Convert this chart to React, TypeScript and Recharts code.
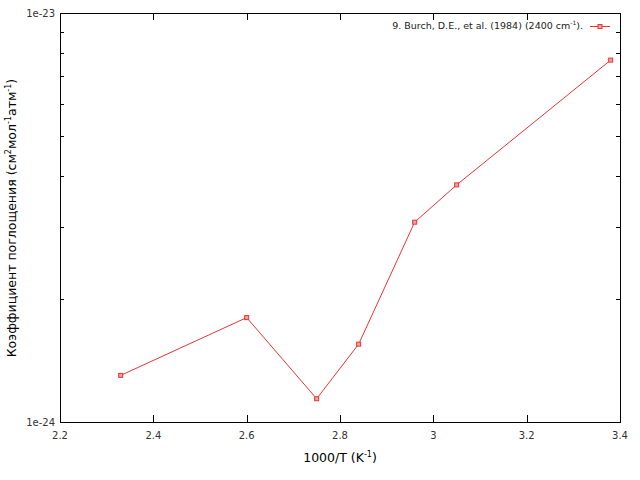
import React from 'react';
import { LineChart, Line, XAxis, YAxis, Label } from 'recharts';

const invTemp = [2.33, 2.6, 2.75, 2.84, 2.96, 3.05, 3.38];
const absCoef = [1.3e-24, 1.8e-24, 1.14e-24, 1.55e-24, 3.08e-24, 3.8e-24, 7.67e-24];
const xTicks = [2.2, 2.4, 2.6, 2.8, 3.0, 3.2, 3.4];
const yTicks = [1e-24, 2e-24, 3e-24, 4e-24, 5e-24, 6e-24, 7e-24, 8e-24, 9e-24, 1e-23];
const yLabels: Record<string, string> = { '1e-24': '1e-24', '1e-23': '1e-23' };
const seriesName = '9. Burch, D.E., et al. (1984) (2400 cm⁻¹).';

const data = invTemp.map((x, i) => ({ x, y: absCoef[i] }));

const W = 640;
const H = 480;
const M = { top: 13, right: 20, left: 0, bottom: 0 };
const Y_W = 60;
const X_H = 58;
const PLOT_TOP = M.top;
const PLOT_RIGHT = W - M.right;
const PLOT_LEFT = M.left + Y_W;
const PLOT_BOTTOM = H - M.bottom - X_H;

const FONT = '"DejaVu Sans", sans-serif';
const RED = '#ee3333';

const isMajorY = (v: number) => yLabels[v.toExponential(0)] !== undefined;

const YTick = (props: any) => {
  const { y, payload } = props;
  const v = payload.value as number;
  const major = isMajorY(v);
  const len = major ? 7 : 4;
  const yy = Math.round(y) + 0.5;
  return (
    <g>
      <line x1={PLOT_LEFT} x2={PLOT_LEFT + len} y1={yy} y2={yy} stroke="#000" />
      <line x1={PLOT_RIGHT} x2={PLOT_RIGHT - len} y1={yy} y2={yy} stroke="#000" />
      {major && (
        <text x={PLOT_LEFT - 5} y={y} dy="0.35em" textAnchor="end" fontSize={10} fontFamily={FONT} fill="#333">
          {yLabels[v.toExponential(0)]}
        </text>
      )}
    </g>
  );
};

const XTick = (props: any) => {
  const { x, payload } = props;
  const v = payload.value as number;
  const xx = Math.round(x) + 0.5;
  return (
    <g>
      <line x1={xx} x2={xx} y1={PLOT_BOTTOM} y2={PLOT_BOTTOM - 7} stroke="#000" />
      <line x1={xx} x2={xx} y1={PLOT_TOP} y2={PLOT_TOP + 7} stroke="#000" />
      <text x={x} y={PLOT_BOTTOM + 13} dy="0.35em" textAnchor="middle" fontSize={10} fontFamily={FONT} fill="#333">
        {String(+v.toFixed(1))}
      </text>
    </g>
  );
};

const Dot = (props: any) => {
  const { cx, cy } = props;
  if (cx == null || cy == null) return null;
  return <rect x={cx - 2} y={cy - 2} width={4} height={4} fill="#f7a0a0" stroke={RED} strokeWidth={1} />;
};

const Overlay = () => (
  <g fontFamily={FONT}>
    <rect
      x={PLOT_LEFT + 0.5}
      y={PLOT_TOP + 0.5}
      width={PLOT_RIGHT - PLOT_LEFT}
      height={PLOT_BOTTOM - PLOT_TOP}
      fill="none"
      stroke="#000"
      strokeWidth={1}
    />
    <text x={340} y={462} textAnchor="middle" fontSize={12.5} fill="#000">
      1000/T (K<tspan dy={-5} fontSize={8}>-1</tspan>
      <tspan dy={5}>)</tspan>
    </text>
    <text x={16} y={218} transform="rotate(-90 16 218)" textAnchor="middle" fontSize={12.5} fill="#000">
      Коэффициент поглощения (см<tspan dy={-5} fontSize={8}>2</tspan>
      <tspan dy={5}>мол</tspan>
      <tspan dy={-5} fontSize={8}>-1</tspan>
      <tspan dy={5}>атм</tspan>
      <tspan dy={-5} fontSize={8}>-1</tspan>
      <tspan dy={5}>)</tspan>
    </text>
    <text x={583} y={26} dy="0.35em" textAnchor="end" fontSize={9.5} fill="#222">
      9. Burch, D.E., et al. (1984) (2400 cm<tspan dy={-4} fontSize={6}>-1</tspan>
      <tspan dy={4}>).</tspan>
    </text>
    <line x1={590} x2={610} y1={26.5} y2={26.5} stroke={RED} />
    <rect x={598} y={24.5} width={4} height={4} fill="#f7a0a0" stroke={RED} />
  </g>
);

export default function App() {
  return (
    <div style={{ position: 'absolute', left: 0, top: 0, width: W, height: H, background: '#fff' }}>
      <LineChart width={W} height={H} data={data} margin={M}>
        <XAxis
          dataKey="x"
          type="number"
          domain={[2.2, 3.4]}
          ticks={xTicks}
          interval={0}
          axisLine={false}
          tickLine={false}
          tickSize={0}
          tickMargin={0}
          height={X_H}
          tick={<XTick />}
        >
          <Label content={() => <Overlay />} />
        </XAxis>
        <YAxis
          dataKey="y"
          type="number"
          scale="log"
          domain={[1e-24, 1e-23]}
          ticks={yTicks}
          interval={0}
          width={Y_W}
          axisLine={false}
          tickLine={false}
          tickSize={0}
          tickMargin={0}
          tick={<YTick />}
        />
        <Line
          dataKey="y"
          name={seriesName}
          stroke={RED}
          strokeWidth={1}
          dot={<Dot />}
          isAnimationActive={false}
        />
      </LineChart>
    </div>
  );
}
